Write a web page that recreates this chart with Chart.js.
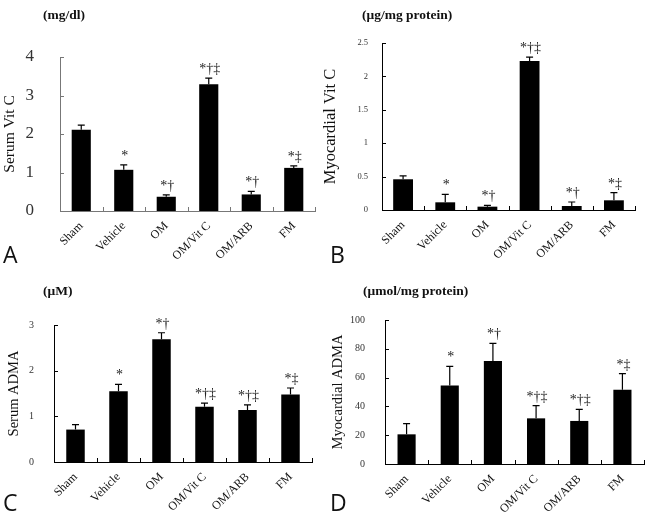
<!DOCTYPE html>
<html>
<head>
<meta charset="utf-8">
<script src="https://cdn.jsdelivr.net/npm/chart.js@4.4.1/dist/chart.umd.min.js"></script>
<style>
  body { margin: 0; background: #fff; width: 646px; height: 515px; position: relative; overflow: hidden; }
  canvas { position: absolute; }
  .unit { position: absolute; font: bold 13.5px "Liberation Serif", serif; color: #111; white-space: nowrap; line-height: 1; }
  .letter { position: absolute; font: 23px "Open Sans", sans-serif; color: #111; line-height: 1; }
</style>
</head>
<body>
<canvas id="chartA" width="320" height="272" style="left:0;top:0"></canvas>
<canvas id="chartB" width="326" height="272" style="left:320px;top:0"></canvas>
<canvas id="chartC" width="320" height="243" style="left:0;top:272px"></canvas>
<canvas id="chartD" width="326" height="243" style="left:320px;top:272px"></canvas>

<div class="unit" style="left:43px;top:8px">(mg/dl)</div>
<div class="unit" style="left:362px;top:8px">(μg/mg protein)</div>
<div class="unit" style="left:43px;top:284px">(μM)</div>
<div class="unit" style="left:363px;top:284px">(μmol/mg protein)</div>

<div class="letter" style="left:3px;top:243px">A</div>
<div class="letter" style="left:330px;top:243px">B</div>
<div class="letter" style="left:3px;top:491px">C</div>
<div class="letter" style="left:330px;top:491px">D</div>

<script>
const categories = ['Sham', 'Vehicle', 'OM', 'OM/Vit C', 'OM/ARB', 'FM'];

// mean and mean+SD
const serumVitC = [2.11, 1.07, 0.37, 3.29, 0.43, 1.12];
const serumVitCErr = [2.23, 1.20, 0.42, 3.45, 0.51, 1.17];
const myoVitC = [0.46, 0.115, 0.05, 2.23, 0.06, 0.145];
const myoVitCErr = [0.51, 0.235, 0.07, 2.29, 0.12, 0.26];
const serumADMA = [0.71, 1.55, 2.69, 1.21, 1.14, 1.48];
const serumADMAErr = [0.82, 1.70, 2.83, 1.29, 1.25, 1.62];
const myoADMA = [20.6, 54.6, 71.5, 31.7, 29.9, 51.6];
const myoADMAErr = [28, 67.8, 83.8, 40.5, 38, 62.7];

// significance marks
const marksVitC = ['', '*', '*†', '*†‡', '*†', '*‡'];
const marksADMA = ['', '*', '*†', '*†‡', '*†‡', '*‡'];

const serif = '"Liberation Serif", "Times New Roman", serif';

function makePanel(id, cfg) {
    const ctx = document.getElementById(id).getContext('2d');
    return new Chart(ctx, {
        type: 'bar',
        data: {
            labels: categories,
            datasets: [{
                data: cfg.values,
                backgroundColor: '#000',
                barPercentage: cfg.barPct,
                categoryPercentage: 1
            }]
        },
        options: {
            responsive: false,
            animation: false,
            layout: { padding: { top: cfg.padTop, right: cfg.padRight, left: 0, bottom: 0 } },
            plugins: { legend: { display: false }, tooltip: { enabled: false } },
            scales: {
                x: {
                    grid: { display: false },
                    border: { color: cfg.axisColor, width: 1 },
                    ticks: {
                        color: '#111', autoSkip: false, minRotation: 45, maxRotation: 45, padding: 0,
                        font: { family: serif, size: 12 }
                    },
                    afterFit: s => { s.height = cfg.xHeight; }
                },
                y: {
                    min: 0, max: cfg.max,
                    grid: { display: false },
                    border: { color: cfg.axisColor, width: 1 },
                    ticks: {
                        stepSize: cfg.step, color: cfg.tickColor, padding: cfg.tickPad,
                        font: { family: serif, size: cfg.tickSize },
                        callback: v => String(Number(v.toFixed(2)))
                    },
                    title: {
                        display: true, text: cfg.title, color: '#111',
                        font: { family: serif, size: cfg.titleSize },
                        padding: { top: cfg.titlePad, bottom: 0 }
                    },
                    afterFit: s => { s.width = cfg.yWidth; }
                }
            }
        },
        plugins: [{
            id: 'extras',
            afterDatasetsDraw(chart) {
                const c = chart.ctx, xs = chart.scales.x, ys = chart.scales.y, area = chart.chartArea;
                const bars = chart.getDatasetMeta(0).data;
                c.save();
                // inward tick marks
                c.strokeStyle = cfg.axisColor;
                c.lineWidth = 1;
                c.beginPath();
                ys.ticks.forEach(t => {
                    const y = Math.round(ys.getPixelForValue(t.value)) + 0.5;
                    c.moveTo(area.left, y);
                    c.lineTo(area.left + 4, y);
                });
                for (let i = 1; i <= categories.length; i++) {
                    const x = Math.round(xs.getPixelForValue(i - 0.5)) + 0.5;
                    c.moveTo(x, area.bottom);
                    c.lineTo(x, area.bottom - 4);
                }
                c.stroke();
                // error bars
                c.strokeStyle = '#000';
                c.lineWidth = 1.2;
                c.beginPath();
                bars.forEach((b, i) => {
                    const yTop = ys.getPixelForValue(cfg.values[i]);
                    const yErr = ys.getPixelForValue(cfg.err[i]);
                    c.moveTo(b.x, yTop);
                    c.lineTo(b.x, yErr);
                    c.moveTo(b.x - 3.5, yErr);
                    c.lineTo(b.x + 3.5, yErr);
                });
                c.stroke();
                // significance marks
                c.fillStyle = '#222';
                c.font = '14px ' + serif;
                c.textAlign = 'center';
                c.textBaseline = 'alphabetic';
                bars.forEach((b, i) => {
                    if (!cfg.marks[i]) return;
                    const yErr = ys.getPixelForValue(cfg.err[i]);
                    c.fillText(cfg.marks[i], b.x + 1, yErr - 5);
                });
                c.restore();
            }
        }]
    });
}

makePanel('chartA', {
    values: serumVitC, err: serumVitCErr, marks: marksVitC,
    max: 4, step: 1, title: 'Serum Vit C', titleSize: 15.5, titlePad: 1,
    tickSize: 17, tickColor: '#333', tickPad: 18, axisColor: '#777',
    yWidth: 60, xHeight: 61, padTop: 57, padRight: 5, barPct: 0.45
});

makePanel('chartB', {
    values: myoVitC, err: myoVitCErr, marks: marksVitC,
    max: 2.5, step: 0.5, title: 'Myocardial Vit C', titleSize: 16.5, titlePad: 1,
    tickSize: 8.5, tickColor: '#333', tickPad: 6, axisColor: '#000',
    yWidth: 62, xHeight: 62, padTop: 43, padRight: 11, barPct: 0.47
});

makePanel('chartC', {
    values: serumADMA, err: serumADMAErr, marks: marksADMA,
    max: 3, step: 1, title: 'Serum ADMA', titleSize: 14.5, titlePad: 5,
    tickSize: 10, tickColor: '#333', tickPad: 12, axisColor: '#000',
    yWidth: 54, xHeight: 53, padTop: 53, padRight: 8, barPct: 0.43
});

makePanel('chartD', {
    values: myoADMA, err: myoADMAErr, marks: marksADMA,
    max: 100, step: 20, title: 'Myocardial ADMA', titleSize: 14.5, titlePad: 9,
    tickSize: 10, tickColor: '#333', tickPad: 12, axisColor: '#000',
    yWidth: 65, xHeight: 51, padTop: 48, padRight: 2, barPct: 0.42
});
</script>
</body>
</html>
